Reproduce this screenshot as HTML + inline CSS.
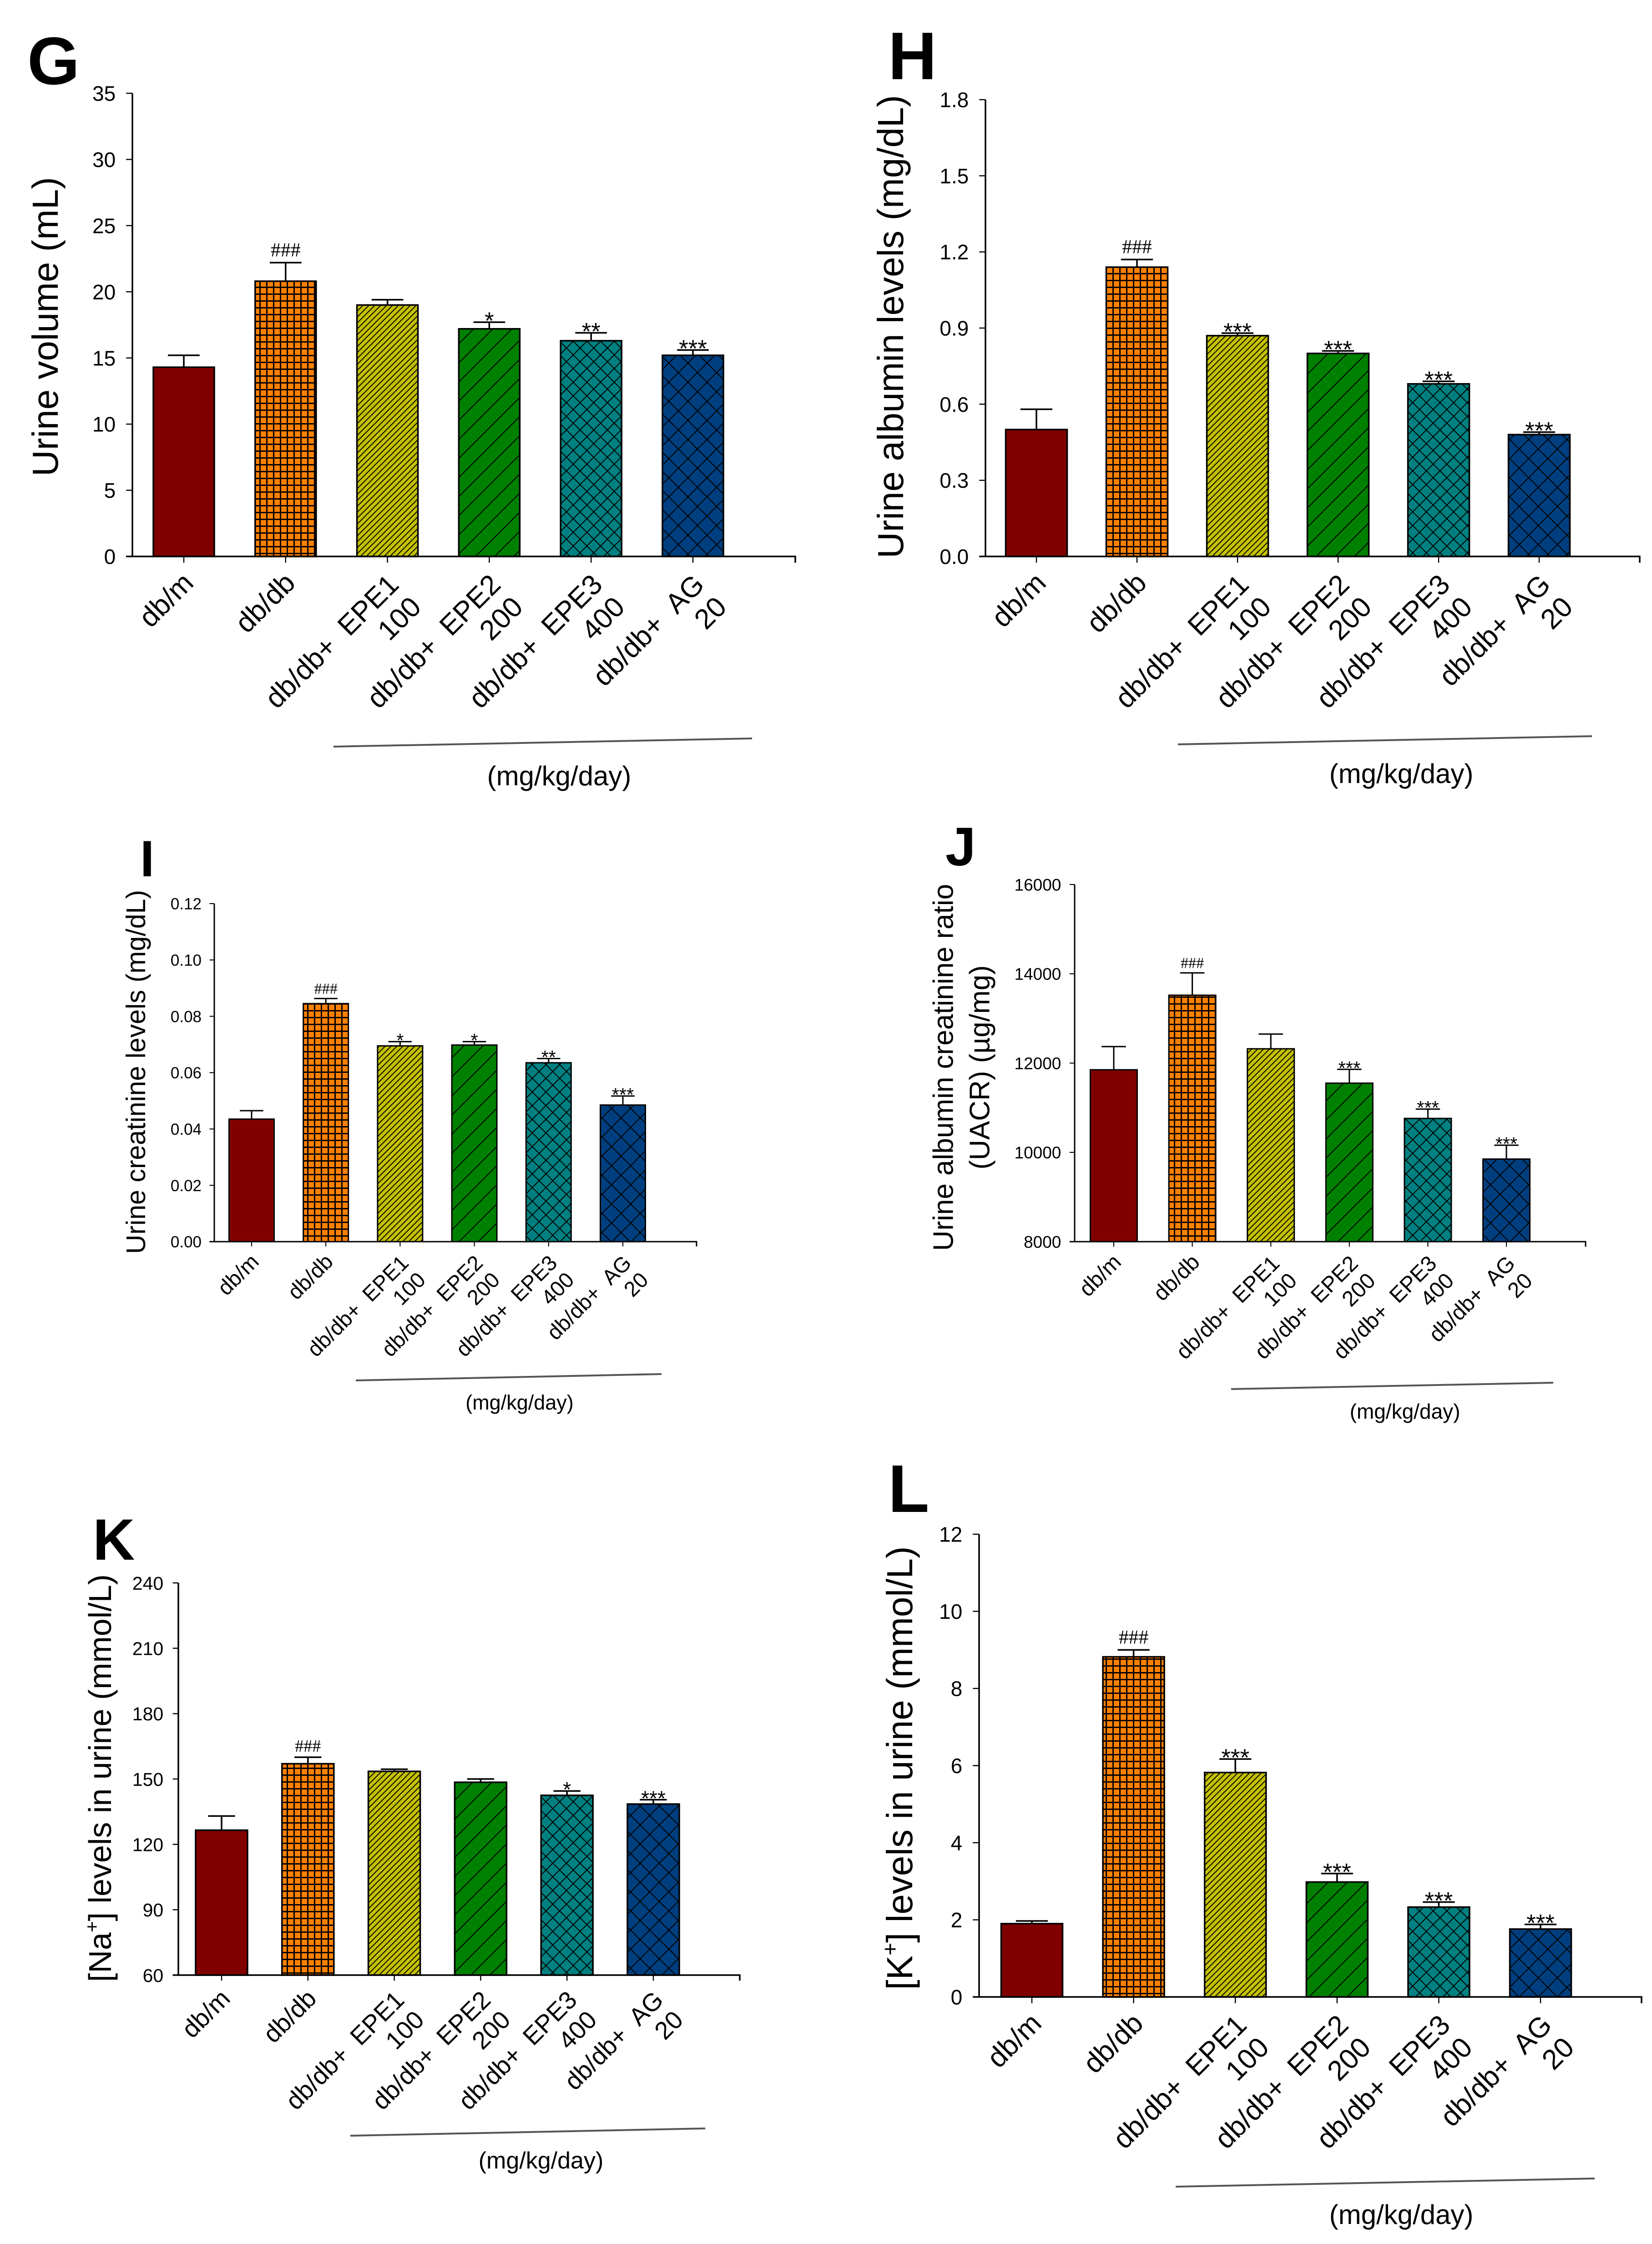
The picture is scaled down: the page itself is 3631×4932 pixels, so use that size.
<!DOCTYPE html>
<html><head><meta charset="utf-8"><style>
html,body{margin:0;padding:0;background:#fff;}
svg{display:block;font-family:"Liberation Sans",Arial,sans-serif;}
</style></head><body>
<svg id="fig" width="3631" height="4932" viewBox="0 0 3631 4932" xmlns="http://www.w3.org/2000/svg">
<defs>
<pattern id="p-grid" patternUnits="userSpaceOnUse" width="15" height="15"><rect width="15" height="15" fill="#ff8000"/><path d="M0 1.5H15M1.5 0V15" stroke="#000" stroke-width="3"/></pattern>
<pattern id="p-dense" patternUnits="userSpaceOnUse" width="13" height="13"><rect width="13" height="13" fill="#c4c000"/><path d="M-3 16L16 -3M-3 3L3 -3M10 16L16 10" stroke="#000" stroke-width="2"/></pattern>
<pattern id="p-sparse" patternUnits="userSpaceOnUse" width="42" height="42"><rect width="42" height="42" fill="#008000"/><path d="M-4 46L46 -4M-4 4L4 -4M38 46L46 38" stroke="#000" stroke-width="2"/></pattern>
<pattern id="p-xdense" patternUnits="userSpaceOnUse" width="30" height="30"><rect width="30" height="30" fill="#008080"/><path d="M0 0L30 30M30 0L0 30" stroke="#000" stroke-width="2"/></pattern>
<pattern id="p-xsparse" patternUnits="userSpaceOnUse" width="42" height="42"><rect width="42" height="42" fill="#003f7f"/><path d="M0 0L42 42M42 0L0 42" stroke="#000" stroke-width="2"/></pattern>
</defs>
</svg>
<script>
var categories = ["db/m","db/db","db/db+\u00a0\u00a0EPE1|100","db/db+\u00a0\u00a0EPE2|200","db/db+\u00a0\u00a0EPE3|400","db/db+\u00a0\u00a0AG|20"];
var fills = ["#800000","url(#p-grid)","url(#p-dense)","url(#p-sparse)","url(#p-xdense)","url(#p-xsparse)"];

var gValues = [14.3, 20.8, 19.0, 17.2, 16.3, 15.2];
var gErrors = [0.9, 1.4, 0.4, 0.5, 0.6, 0.4];
var gMarks = ["", "###", "", "*", "**", "***"];
var gTicks = [0,5,10,15,20,25,30,35];
var gTickLabels = ["0","5","10","15","20","25","30","35"];

var hValues = [0.50, 1.14, 0.87, 0.80, 0.68, 0.48];
var hErrors = [0.08, 0.03, 0.01, 0.01, 0.01, 0.01];
var hMarks = ["", "###", "***", "***", "***", "***"];
var hTicks = [0,0.3,0.6,0.9,1.2,1.5,1.8];
var hTickLabels = ["0.0","0.3","0.6","0.9","1.2","1.5","1.8"];

var iValues = [0.0435, 0.0845, 0.0695, 0.0698, 0.0635, 0.0485];
var iErrors = [0.003, 0.0018, 0.0015, 0.0012, 0.0015, 0.0032];
var iMarks = ["", "###", "*", "*", "**", "***"];
var iTicks = [0,0.02,0.04,0.06,0.08,0.10,0.12];
var iTickLabels = ["0.00","0.02","0.04","0.06","0.08","0.10","0.12"];

var jValues = [11850, 13520, 12320, 11550, 10760, 9850];
var jErrors = [520, 500, 330, 310, 210, 310];
var jMarks = ["", "###", "", "***", "***", "***"];
var jTicks = [8000,10000,12000,14000,16000];
var jTickLabels = ["8000","10000","12000","14000","16000"];

var kValues = [126.5, 157, 153.5, 148.5, 142.5, 138.5];
var kErrors = [6.5, 3, 1, 1.5, 2, 2];
var kMarks = ["", "###", "", "", "*", "***"];
var kTicks = [60,90,120,150,180,210,240];
var kTickLabels = ["60","90","120","150","180","210","240"];

var lValues = [1.90, 8.82, 5.82, 2.98, 2.33, 1.76];
var lErrors = [0.07, 0.18, 0.35, 0.22, 0.13, 0.12];
var lMarks = ["", "###", "***", "***", "***", "***"];
var lTicks = [0,2,4,6,8,10,12];
var lTickLabels = ["0","2","4","6","8","10","12"];

var NS = "http://www.w3.org/2000/svg";
var svg = document.getElementById("fig");
function mk(tag, attrs, parent) {
  var e = document.createElementNS(NS, tag);
  for (var k in attrs) e.setAttribute(k, attrs[k]);
  (parent || svg).appendChild(e);
  return e;
}

var panels = [
 {id:"g", letter:"G", lx:60, ly:185, lfs:148, values:gValues, errors:gErrors, marks:gMarks, ticks:gTicks, tickLabels:gTickLabels,
  ax:291, top:205, zero:1223, right:1748, ymin:0, ymax:35, cx0:404, dx:223.8, bw:134, tfs:46, xfs:62, mfs:46, aw:3.5,
  title:["Urine volume (mL)"], tx:[98], ty:718, titfs:80, ul:[733,1641,1653,1623], mx:1229, my:1705, mgfs:60},
 {id:"h", letter:"H", lx:1952, ly:174, lfs:148, values:hValues, errors:hErrors, marks:hMarks, ticks:hTicks, tickLabels:hTickLabels,
  ax:2166, top:219, zero:1223, right:3604, ymin:0, ymax:1.8, cx0:2278, dx:221, bw:135, tfs:46, xfs:62, mfs:46, aw:3.5,
  title:["Urine albumin levels (mg/dL)"], tx:[1956], ty:718, titfs:80, ul:[2589,1636,3499,1618], mx:3080, my:1700, mgfs:60},
 {id:"i", letter:"I", lx:308, ly:1926, lfs:112, values:iValues, errors:iErrors, marks:iMarks, ticks:iTicks, tickLabels:iTickLabels,
  ax:471, top:1986, zero:2729, right:1531, ymin:0, ymax:0.12, cx0:553, dx:163.2, bw:99, tfs:35, xfs:47, mfs:36, aw:3,
  title:["Urine creatinine levels (mg/dL)"], tx:[298], ty:2356, titfs:59, ul:[782,3034,1454,3020], mx:1142, my:3082, mgfs:45},
 {id:"j", letter:"J", lx:2078, ly:1902, lfs:120, values:jValues, errors:jErrors, marks:jMarks, ticks:jTicks, tickLabels:jTickLabels,
  ax:2362, top:1944, zero:2729, right:3485, ymin:8000, ymax:16000, cx0:2448, dx:172.6, bw:103, tfs:37, xfs:48, mfs:36, aw:3,
  title:["Urine albumin creatinine ratio","(UACR) (\u00b5g/mg)"], tx:[2072,2152], ty:2346, titfs:62, ul:[2706,3053,3414,3039], mx:3088, my:3102, mgfs:46},
 {id:"k", letter:"K", lx:204, ly:3428, lfs:128, values:kValues, errors:kErrors, marks:kMarks, ticks:kTicks, tickLabels:kTickLabels,
  ax:392, top:3479, zero:4341, right:1626, ymin:60, ymax:240, cx0:487, dx:189.8, bw:114, tfs:41, xfs:55, mfs:40, aw:3.5,
  title:["NA"], tx:[219], ty:3908, titfs:70, ul:[770,4694,1550,4678], mx:1189, my:4748, mgfs:52},
 {id:"l", letter:"L", lx:1952, ly:3323, lfs:148, values:lValues, errors:lErrors, marks:lMarks, ticks:lTicks, tickLabels:lTickLabels,
  ax:2152, top:3372, zero:4389, right:3608, ymin:0, ymax:12, cx0:2268, dx:223.6, bw:135, tfs:46, xfs:62, mfs:46, aw:3.5,
  title:["K"], tx:[1976], ty:3886, titfs:80, ul:[2584,4806,3505,4788], mx:3080, my:4867, mgfs:60}
];

panels.forEach(function(p){
  var g = mk("g", {});
  
  
  function y(v){ return p.zero - (v - p.ymin) / (p.ymax - p.ymin) * (p.zero - p.top); }
  function x(i){ return p.cx0 + i * p.dx; }

  var L = mk("text", {x:p.lx, y:p.ly, "font-size":p.lfs, "font-weight":"bold", fill:"#000"}, g);
  L.textContent = p.letter;
  
  

  p.values.forEach(function(v, i){
    var yt = y(v), ye = y(v + p.errors[i]), cap = p.bw * 0.26;
    var eb = mk("path", {d:"M"+x(i)+" "+yt+"V"+ye+"M"+(x(i)-cap)+" "+ye+"H"+(x(i)+cap), stroke:"#000", "stroke-width":p.aw, fill:"none"}, g);
    
    
    var r = mk("rect", {x:x(i)-p.bw/2, y:yt, width:p.bw, height:p.zero-yt, fill:fills[i], stroke:"#000", "stroke-width":p.aw}, g);
    
    
    if (p.marks[i]) {
      var isHash = p.marks[i].charAt(0) === "#";
      var fs = isHash ? p.mfs*0.95 : p.mfs*1.15;
      var by = isHash ? ye - p.mfs*0.3 : ye + fs*0.28;
      var t = mk("text", {x:x(i), y:by, "text-anchor":"middle", "font-size":fs, fill:"#000", "font-family": isHash ? "Liberation Serif, serif" : "Liberation Sans, sans-serif"}, g);
      t.textContent = p.marks[i];
      
      
    }
  });

  var ya = mk("path", {d:"M"+p.ax+" "+p.top+"V"+p.zero, stroke:"#000", "stroke-width":p.aw}, g);
  
  
  var xa = mk("path", {d:"M"+(p.ax - p.tfs*0.3)+" "+p.zero+"H"+p.right+"V"+(p.zero+p.tfs*0.3), stroke:"#000", "stroke-width":p.aw, fill:"none"}, g);
  
  

  p.ticks.forEach(function(v, k){
    var tk = mk("path", {d:"M"+(p.ax - p.tfs*0.3)+" "+y(v)+"H"+p.ax, stroke:"#000", "stroke-width":p.aw*0.7}, g);
    
    
    var tl = mk("text", {x:p.ax - p.tfs*0.8, y:y(v)+p.tfs*0.36, "text-anchor":"end", "font-size":p.tfs, fill:"#000"}, g);
    tl.textContent = p.tickLabels[k];
    
    
  });

  categories.forEach(function(c, i){
    var tk = mk("path", {d:"M"+x(i)+" "+p.zero+"V"+(p.zero+p.tfs*0.3), stroke:"#000", "stroke-width":p.aw*0.7}, g);
    
    
    var lines = c.split("|");
    var ax = x(i) + p.xfs*0.15, ay = p.zero + p.xfs*0.75;
    if (lines.length > 1) { ax += p.xfs*0.45; ay += p.xfs*0.45; }
    var t = mk("text", {transform:"translate("+ax+","+ay+") rotate(-45)", "text-anchor":"end", "font-size":p.xfs, fill:"#000"}, g);
    
    
    if (lines.length === 1) {
      var s = mk("tspan", {x:0, y:p.xfs*0.35}, t); s.textContent = lines[0];
    } else {
      var s1 = mk("tspan", {x:0, y:-p.xfs*0.2}, t); s1.textContent = lines[0];
      var s2 = mk("tspan", {x:0, y:p.xfs*0.92}, t); s2.textContent = lines[1];
    }
  });

  var tt = mk("text", {transform:"translate(0,"+p.ty+") rotate(-90)", "text-anchor":"middle", "font-size":p.titfs, fill:"#000"}, g);
  
  
  if (p.title[0] === "NA" || p.title[0] === "K") {
    var ion = p.title[0] === "NA" ? "Na" : "K";
    var a = mk("tspan", {x:0, y:p.tx[0] + p.titfs*0.36}, tt); a.textContent = "[" + ion;
    var b = mk("tspan", {dy:-p.titfs*0.4, "font-size":p.titfs*0.6}, tt); b.textContent = "+";
    var c2 = mk("tspan", {dy:p.titfs*0.4}, tt); c2.textContent = "] levels in urine (mmol/L)";
  } else {
    p.title.forEach(function(line, k){
      var s = mk("tspan", {x:0, y:p.tx[k] + p.titfs*0.36}, tt); s.textContent = line;
    });
  }

  var ul = mk("line", {x1:p.ul[0], y1:p.ul[1], x2:p.ul[2], y2:p.ul[3], stroke:"#555", "stroke-width":4}, g);
  
  
  var mg = mk("text", {x:p.mx, y:p.my + p.mgfs*0.35, "text-anchor":"middle", "font-size":p.mgfs, fill:"#000"}, g);
  mg.textContent = "(mg/kg/day)";
  
  
});
</script>
</body></html>
